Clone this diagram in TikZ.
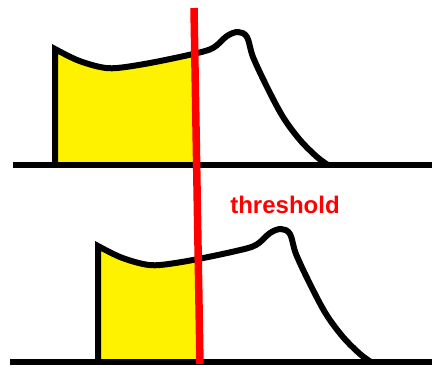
\documentclass[tikz,border=0pt]{standalone}
\usepackage{fontspec}
\setmainfont{Liberation Sans}
\usetikzlibrary{positioning}

% one pulse, in pixel units of the top plot
\newcommand{\pulseshape}{(55,165) -- plot[smooth, tension=0.55] coordinates {(55,49) (77,60) (100,67) (117,68) (150,63) (193,54) (213,48) (227,36) (238,32) (247,37) (253,57) (267,87) (283,117) (300,140) (317,157) (328,165)}}

\begin{document}
\begin{tikzpicture}[
x=1pt, y=-1pt,
axis/.style={line width=6pt},
pulseline/.style={line width=6pt, line join=miter},
cut/.style={line width=7.5pt, red},
lbl/.style={font=\fontsize{24}{24}\selectfont\bfseries, text=red, inner sep=0pt}
]
\useasboundingbox (0,0) rectangle (432,372);
% yellow part left of the threshold
\begin{scope}
\clip (0,0) -- (193.9,0) -- (200.1,372) -- (0,372) -- cycle;
\fill[yellow] \pulseshape -- cycle;
\fill[yellow, shift={(43,197)}] \pulseshape -- cycle;
\end{scope}
% base lines
\coordinate (topL) at (13,165);
\coordinate (topR) at (432,165);
\coordinate (botL) at (10,362);
\coordinate (botR) at (432,362);
\draw[axis] (topL) -- (topR);
\draw[axis] (botL) -- (botR);
% pulses
\draw[pulseline] \pulseshape;
\draw[pulseline, shift={(43,197)}] \pulseshape;
% threshold
\coordinate (cutA) at (194,8);
\coordinate (cutB) at (200,364);
\draw[cut] (cutA) -- (cutB);
\node[lbl, anchor=base] (thr) at (285,213) {threshold};
\end{tikzpicture}
\end{document}
